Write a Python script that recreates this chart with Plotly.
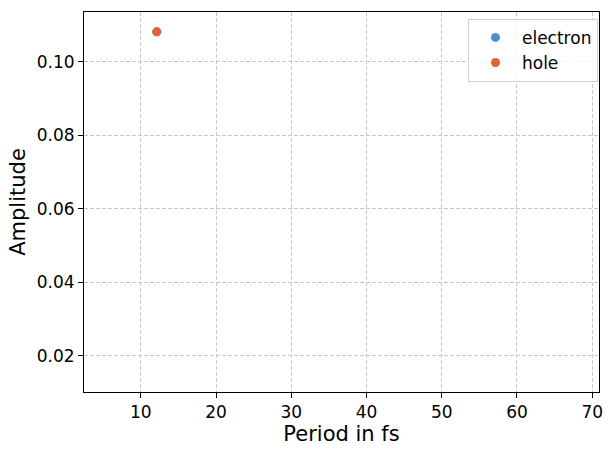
import plotly.graph_objects as go

# Data
electron_period = [12.12]
electron_amplitude = [0.1082]
hole_period = [12.12]
hole_amplitude = [0.1082]

x_range = [2.45, 70.9]
y_range = [0.01007, 0.11361]
x_ticks = [10, 20, 30, 40, 50, 60, 70]
y_ticks = [0.02, 0.04, 0.06, 0.08, 0.10]

fig = go.Figure()
fig.add_trace(go.Scatter(x=electron_period, y=electron_amplitude, mode="markers",
                         name="electron", marker=dict(color="#4494D3", size=9)))
fig.add_trace(go.Scatter(x=hole_period, y=hole_amplitude, mode="markers",
                         name="hole", marker=dict(color="#E5613A", size=9)))

axis_common = dict(showline=True, linecolor="black", linewidth=1, mirror=True,
                   ticks="outside", ticklen=5, tickcolor="black", tickwidth=1,
                   showgrid=True, gridcolor="#c8c8c8", griddash="4px,2px", gridwidth=1,
                   zeroline=False, tickfont=dict(size=17, color="black"))

fig.update_xaxes(range=x_range, tickvals=x_ticks,
                 title=dict(text="Period in fs", font=dict(size=21, color="black"), standoff=4),
                 **axis_common)
fig.update_yaxes(range=y_range, tickvals=y_ticks, tickformat=".2f",
                 title=dict(text="Amplitude", font=dict(size=21, color="black"), standoff=5),
                 **axis_common)

fig.update_layout(
    width=614, height=455,
    margin=dict(l=84, r=13, t=11, b=63),
    plot_bgcolor="white", paper_bgcolor="white",
    font=dict(family="DejaVu Sans", color="black"),
    showlegend=True,
    legend=dict(x=0.998, y=0.982, xanchor="right", yanchor="top",
                bordercolor="#d0d0d0", borderwidth=1, bgcolor="rgba(255,255,255,0.8)",
                font=dict(size=17), itemwidth=43, tracegroupgap=0,
                entrywidth=130, entrywidthmode="pixels"),
)

fig.write_html("out.html")
